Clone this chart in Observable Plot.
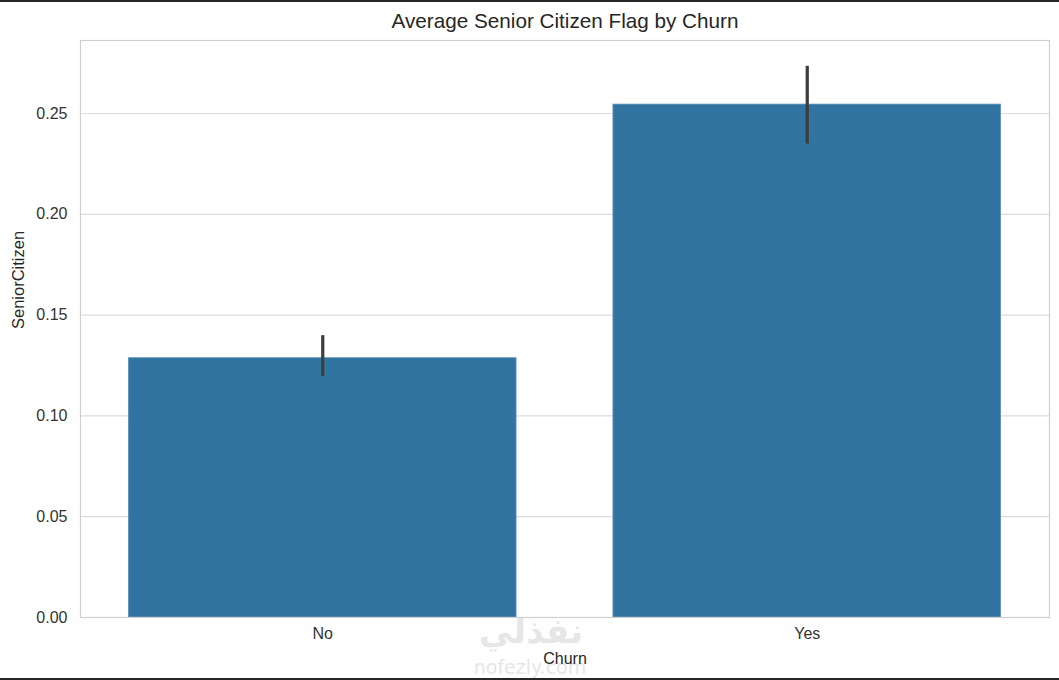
<!DOCTYPE html>
<html>
<head>
<meta charset="utf-8">
<script src="https://cdn.jsdelivr.net/npm/d3@7"></script>
<script src="https://cdn.jsdelivr.net/npm/@observablehq/plot@0.6"></script>
<style>
  html, body { margin: 0; padding: 0; background: #fff; }
  #wrap { position: relative; width: 1059px; height: 680px; overflow: hidden; }
  .bar { position: absolute; left: 0; width: 1059px; background: #262626; }
  svg { font-family: "Liberation Sans", Arial, sans-serif; }
</style>
</head>
<body>
<div id="wrap">
  <div id="chart"></div>
  <div class="bar" style="top:0;height:2px"></div>
  <div class="bar" style="top:678px;height:2px"></div>
</div>
<script>
const categories = ["No", "Yes"];
const means = [0.1286, 0.2544];
const ciLow = [0.1195, 0.2348];
const ciHigh = [0.1398, 0.2734];
const yTicks = [0, 0.05, 0.10, 0.15, 0.20, 0.25];
const title = "Average Senior Citizen Flag by Churn";
const xLabel = "Churn";
const yLabel = "SeniorCitizen";

const data = categories.map((c, i) => ({churn: c, mean: means[i], lo: ciLow[i], hi: ciHigh[i]}));

const chart = Plot.plot({
  width: 1059,
  height: 680,
  marginLeft: 80,
  marginRight: 10,
  marginTop: 40,
  marginBottom: 63,
  style: {fontFamily: "'Liberation Sans', Arial, sans-serif", fontSize: "16px", color: "#333", background: "#fff"},
  x: {domain: categories, paddingInner: 0.2, paddingOuter: 0.1, round: false, label: null},
  y: {domain: [0, 0.2862], label: null},
  marks: [
    Plot.gridY(yTicks, {stroke: "#dcdcdc", strokeOpacity: 1, strokeWidth: 1.2}),
    Plot.barY(data, {x: "churn", y: "mean", fill: "#3274a1", stroke: "#5a8fb8", strokeWidth: 0.8}),
    Plot.ruleX(data, {x: "churn", y1: "lo", y2: "hi", stroke: "#3d3d3d", strokeWidth: 3.2}),
    Plot.frame({stroke: "#cfcfcf", strokeWidth: 1.2}),
    Plot.axisY(yTicks, {tickFormat: d3.format(".2f"), tickSize: 0, tickPadding: 13, fontSize: 16, fill: "#333", label: null}),
    Plot.axisX({tickSize: 0, tickPadding: 10, fontSize: 16, fill: "#333", label: null}),
    Plot.text([title], {frameAnchor: "top", dy: -27, fontSize: 20.7, fill: "#262626", text: d => d}),
    Plot.text([xLabel], {frameAnchor: "bottom", dy: 46, fontSize: 16, fill: "#262626", text: d => d}),
    Plot.text([yLabel], {frameAnchor: "left", dx: -62, rotate: -90, fontSize: 16.5, fill: "#262626", text: d => d})
  ]
});
document.getElementById("chart").appendChild(chart);

// faint watermark as real text (drawn beneath the axis label)
const svg = d3.select(chart);
const wm = svg.insert("g", ":first-child").attr("aria-label", "watermark");
wm.append("text").attr("x", 531).attr("y", 643).attr("text-anchor", "middle")
  .attr("font-family", "'DejaVu Sans', sans-serif").attr("font-weight", "bold").attr("font-size", 34)
  .attr("fill", "#e6e6e6").attr("direction", "rtl").text("نفذلي");
wm.append("text").attr("x", 530).attr("y", 674).attr("text-anchor", "middle")
  .attr("font-family", "'DejaVu Sans', sans-serif").attr("font-size", 19)
  .attr("fill", "#e6e6e6").text("nofezly.com");
</script>
</body>
</html>
